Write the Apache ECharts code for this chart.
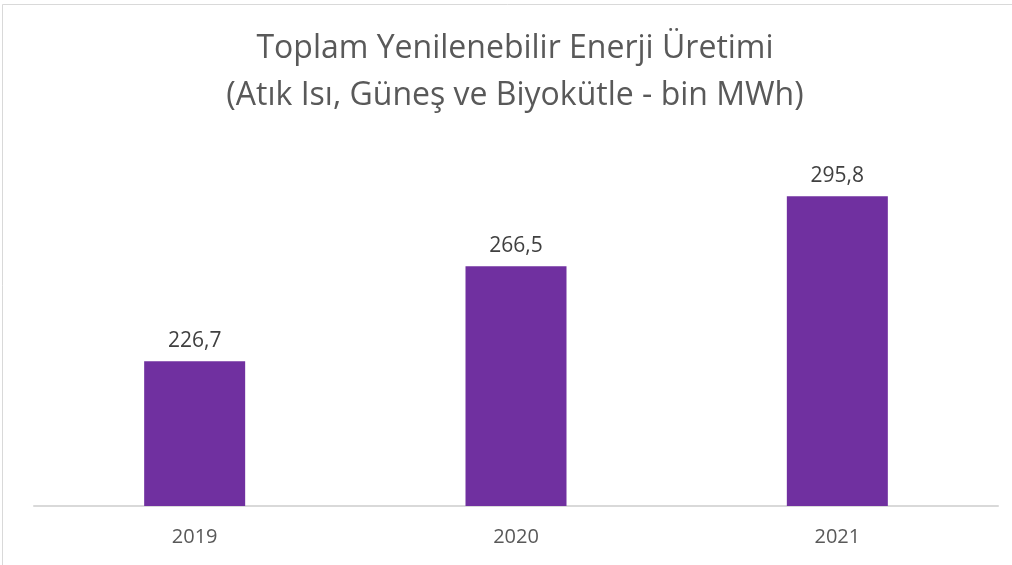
<!DOCTYPE html>
<html>
<head>
<meta charset="utf-8">
<script src="https://cdn.jsdelivr.net/npm/echarts@6/dist/echarts.min.js"></script>
<style>
  html, body { margin: 0; padding: 0; background: #ffffff; }
  #chart { width: 1012px; height: 565px; }
</style>
</head>
<body>
<div id="chart"></div>
<script>
  // veriler
  var categories = ['2019', '2020', '2021'];
  var values = [226.7, 266.5, 295.8];
  var titleLines = ['Toplam Yenilenebilir Enerji Üretimi', '(Atık Isı, Güneş ve Biyokütle - bin MWh)'];

  var chart = echarts.init(document.getElementById('chart'));
  var font = '"Open Sans", "Noto Sans", sans-serif';

  chart.setOption({
    animation: false,
    backgroundColor: '#ffffff',
    title: {
      text: titleLines.join('\n'),
      left: 515,
      textAlign: 'center',
      top: 25,
      padding: 0,
      textStyle: {
        fontFamily: font,
        fontSize: 32,
        fontWeight: 'normal',
        color: '#595959',
        lineHeight: 47
      }
    },
    grid: {
      left: 34,
      right: 14,
      top: 160,
      bottom: 59
    },
    xAxis: {
      type: 'category',
      data: categories,
      axisTick: { show: false },
      axisLine: { lineStyle: { color: '#d9d9d9', width: 2 } },
      axisLabel: {
        margin: 21,
        fontFamily: font,
        fontSize: 20,
        color: '#595959'
      }
    },
    yAxis: {
      type: 'value',
      min: 166,
      max: 311,
      show: false,
      splitLine: { show: false }
    },
    graphic: [
      {
        type: 'rect',
        shape: { x: 2.5, y: 4.5, width: 1030, height: 600 },
        style: { fill: 'none', stroke: '#d9d9d9', lineWidth: 1 },
        silent: true
      }
    ],
    series: [
      {
        type: 'bar',
        data: values,
        barWidth: 101,
        itemStyle: { color: '#7030a0' },
        label: {
          show: true,
          position: 'top',
          distance: 10,
          fontFamily: font,
          fontSize: 21,
          color: '#404040',
          formatter: function (p) {
            return p.value.toFixed(1).replace('.', ',');
          }
        }
      }
    ]
  });
</script>
</body>
</html>
